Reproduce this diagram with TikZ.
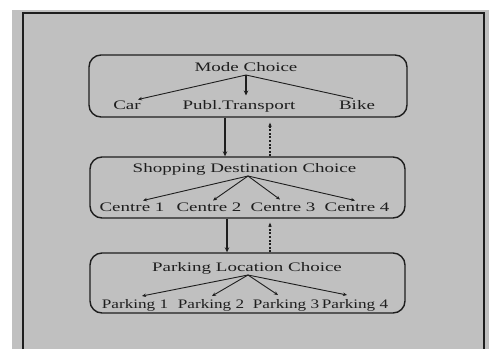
\documentclass[tikz,border=0pt]{standalone}
\usepackage{fontspec}
\setmainfont{Liberation Serif}
\usetikzlibrary{arrows.meta}
\definecolor{bg}{RGB}{192,192,192}
\definecolor{ink}{RGB}{30,30,30}
\newcommand\wtxt[2][1.46]{\scalebox{#1}[1]{#2}}
\begin{document}
\begin{tikzpicture}[x=1pt,y=-1pt,
  txt/.style={inner sep=0pt, anchor=base, text=ink, font=\fontsize{13}{15}\selectfont},
  choicebox/.style={draw=ink, line width=1.4pt, rounded corners=12pt, inner sep=0pt},
  fan/.style={draw=ink, line width=0.9pt, -{Stealth[length=4pt,width=3.5pt]}},
  flow/.style={draw=ink, line width=1.3pt, -{Stealth[length=5pt,width=4.5pt]}},
  back/.style={draw=ink, line width=1.3pt, dash pattern=on 2pt off 1.6pt, -{Stealth[length=4pt,width=3.5pt]}}]
\useasboundingbox (0,0) rectangle (489,349);
\fill[bg] (12,10) rectangle (489,349);
\draw[line width=1.6pt, ink] (23,349) -- (23,13) -- (484,13) -- (484,349);

% boxes
\node[choicebox, minimum width=318pt, minimum height=62pt] (box1) at (248,86) {};
\node[choicebox, minimum width=315pt, minimum height=61pt] (box2) at (247.5,187.5) {};
\node[choicebox, minimum width=315pt, minimum height=60pt] (box3) at (247.5,283) {};

% box 1
\node[txt] (mode) at (246,71.5) {\wtxt{Mode Choice}};
\node[txt] (car) at (127,109.5) {\wtxt{Car}};
\node[txt] (publ) at (239,109.5) {\wtxt{Publ.Transport}};
\node[txt] (bike) at (357,109.5) {\wtxt{Bike}};
\draw[fan] ([yshift=-3.5pt]mode.base) -- ([xshift=11pt,yshift=10pt]car.base);
\draw[flow] ([yshift=-3.5pt]mode.base) -- ([yshift=14pt]mode.base |- publ.base);
\draw[draw=ink, line width=0.9pt] ([yshift=-3.5pt]mode.base) -- ([xshift=-4pt,yshift=11pt]bike.base);

% box 2
\node[txt] (shop) at (244.5,172.5) {\wtxt{Shopping Destination Choice}};
\node[txt] (c1) at (132,211.5) {\wtxt{Centre 1}};
\node[txt] (c2) at (209,211.5) {\wtxt{Centre 2}};
\node[txt] (c3) at (283,211.5) {\wtxt{Centre 3}};
\node[txt] (c4) at (357,211.5) {\wtxt{Centre 4}};
\coordinate (sa) at ([xshift=3.5pt,yshift=-3.5pt]shop.base);
\draw[fan] (sa) -- ([xshift=11pt,yshift=11pt]c1.base);
\draw[fan] (sa) -- ([xshift=4pt,yshift=11pt]c2.base);
\draw[fan] (sa) -- ([xshift=-3pt,yshift=12pt]c3.base);
\draw[fan] (sa) -- ([xshift=-2pt,yshift=11pt]c4.base);

% box 3
\node[txt] (park) at (247,271.5) {\wtxt{Parking Location Choice}};
\node[txt] (p1) at (135,308.5) {\wtxt[1.32]{Parking 1}};
\node[txt] (p2) at (211,308.5) {\wtxt[1.32]{Parking 2}};
\node[txt] (p3) at (286,308.5) {\wtxt[1.32]{Parking 3}};
\node[txt] (p4) at (355,308.5) {\wtxt[1.32]{Parking 4}};
\coordinate (pa) at ([xshift=1pt,yshift=-3.5pt]park.base);
\draw[fan] (pa) -- ([xshift=7pt,yshift=12.5pt]p1.base);
\draw[fan] (pa) -- ([xshift=1pt,yshift=12.5pt]p2.base);
\draw[fan] (pa) -- ([xshift=-8pt,yshift=13.5pt]p3.base);
\draw[fan] (pa) -- ([xshift=-8pt,yshift=13.5pt]p4.base);

% between boxes
\draw[flow] ([xshift=-23pt]box1.south) -- ([xshift=-22.5pt]box2.north);
\draw[back] ([xshift=22.5pt]box2.north) -- ([xshift=22pt,yshift=-5pt]box1.south);
\draw[flow] ([xshift=-20.5pt]box2.south) -- ([xshift=-20.5pt]box3.north);
\draw[back] ([xshift=22.5pt]box3.north) -- ([xshift=22.5pt,yshift=-4pt]box2.south);
\end{tikzpicture}
\end{document}
